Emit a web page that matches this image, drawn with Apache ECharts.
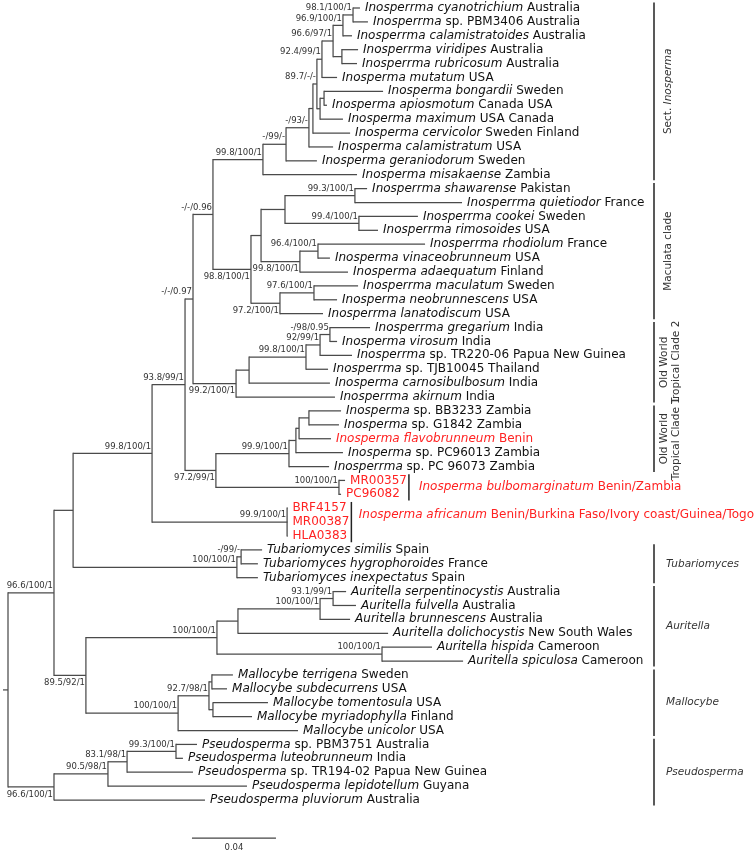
<!DOCTYPE html>
<html><head><meta charset="utf-8">
<script src="https://cdn.jsdelivr.net/npm/echarts@6/dist/echarts.min.js"></script>
<style>html,body{margin:0;padding:0;background:#fff}#c{width:756px;height:856px}</style>
</head><body><div id="c"></div>
<script>
// ---------------- DATA ----------------
const leafTaxon = [
 'Inosperrma cyanotrichium','Inosperrma','Inosperrma calamistratoides','Inosperrma viridipes','Inosperrma rubricosum','Inosperma mutatum','Inosperma bongardii','Inosperma apiosmotum','Inosperma maximum','Inosperma cervicolor','Inosperma calamistratum','Inosperma geraniodorum','Inosperma misakaense',
 'Inosperrma shawarense','Inosperrma quietiodor','Inosperrma cookei','Inosperrma rimosoides','Inosperrma rhodiolum','Inosperma vinaceobrunneum','Inosperma adaequatum','Inosperrma maculatum','Inosperma neobrunnescens','Inosperrma lanatodiscum',
 'Inosperrma gregarium','Inosperma virosum','Inosperrma','Inosperrma','Inosperma carnosibulbosum','Inosperrma akirnum',
 'Inosperma','Inosperma','Inosperma flavobrunneum','Inosperma','Inosperrma',
 '','','','','',
 'Tubariomyces similis','Tubariomyces hygrophoroides','Tubariomyces inexpectatus',
 'Auritella serpentinocystis','Auritella fulvella','Auritella brunnescens','Auritella dolichocystis','Auritella hispida','Auritella spiculosa',
 'Mallocybe terrigena','Mallocybe subdecurrens','Mallocybe tomentosula','Mallocybe myriadophylla','Mallocybe unicolor',
 'Pseudosperma','Pseudosperma luteobrunneum','Pseudosperma','Pseudosperma lepidotellum','Pseudosperma pluviorum'];
const leafDetail = [
 'Australia','sp. PBM3406 Australia','Australia','Australia','Australia','USA','Sweden','Canada USA','USA Canada','Sweden Finland','USA','Sweden','Zambia',
 'Pakistan','France','Sweden','USA','France','USA','Finland','Sweden','USA','USA',
 'India','India','sp. TR220-06 Papua New Guinea','sp. TJB10045 Thailand','India','India',
 'sp. BB3233 Zambia','sp. G1842 Zambia','Benin','sp. PC96013 Zambia','sp. PC 96073 Zambia',
 'MR00357','PC96082','BRF4157','MR00387','HLA0383',
 'Spain','France','Spain',
 'Australia','Australia','Australia','New South Wales','Cameroon','Cameroon',
 'Sweden','USA','USA','Finland','USA',
 'sp. PBM3751 Australia','India','sp. TR194-02 Papua New Guinea','Guyana','Australia'];
// distance of each tip from the root (substitutions/site)
const leafDepth = [
 0.1676,0.1714,0.1638,0.1667,0.1662,0.1567,0.1786,0.1519,0.1595,0.1629,0.1548,0.1471,0.1662,
 0.1710,0.2162,0.1952,0.1762,0.1986,0.1533,0.1619,0.1667,0.1567,0.1500,
 0.1724,0.1567,0.1638,0.1524,0.1533,0.1557,
 0.1586,0.1576,0.1538,0.1595,0.1529,
 0.1605,0.1586,0.1331,0.1331,0.1331,
 0.1210,0.1190,0.1190,
 0.1610,0.1657,0.1629,0.1810,0.2019,0.2167,
 0.1071,0.1043,0.1238,0.1162,0.1381,
 0.0900,0.0833,0.0881,0.1138,0.0938];
// taxa newly reported in this study
const newTaxa = [31,34,35,36,37,38];

const nodeName = ['A','B','C','D','E','F1','F','G','H','I',
 'J','K','L','M','N','P','Q','R','S','T',
 'U','V','W','X','Y','Z','AA','AB','AC','AD',
 'AE','AF','AG','AH','AI','AK','AJ','AM','AN','AL',
 'AR3','AR2','AR','AS','AQ','AV','AW','AU','AT','AP',
 'AO','BA','AZ','AY','AX','ROOT'];
const nodeChildren = [[0,1],['A',2],[3,4],['B','C'],['D',5],[6,7],['F1',8],['E','F'],['G',9],['H',10],
 ['I',11],['J',12],[13,14],[15,16],['L','M'],[17,18],['P',19],['N','Q'],[20,21],['S',22],
 ['R','T'],['K','U'],[23,24],['W',25],['X',26],['Y',27],['Z',28],['V','AA'],[29,30],['AC',31],
 ['AD',32],['AE',33],[34,35],['AF','AG'],[36,37,38],['AB','AH'],['AK','AI'],[39,40],['AM',41],['AJ','AN'],
 [42,43],['AR3',44],['AR2',45],[46,47],['AR','AS'],[48,49],[50,51],['AV','AW'],['AU',52],['AQ','AT'],
 ['AL','AP'],[53,54],['BA',55],['AZ',56],['AY',57],['AO','AX']];
const nodeDepth = [0.1643,0.1595,0.1590,0.1548,0.1495,0.1505,0.1486,0.1471,0.1452,0.1433,
 0.1324,0.1214,0.1652,0.1671,0.1319,0.1476,0.1390,0.1205,0.1457,0.1295,
 0.1157,0.0976,0.1533,0.1486,0.1419,0.1148,0.1086,0.0881,0.1433,0.1386,
 0.1371,0.1338,0.1576,0.0990,0.1329,0.0843,0.0686,0.1110,0.1090,0.0310,
 0.1548,0.1486,0.1095,0.1781,0.0995,0.0971,0.0976,0.0957,0.0810,0.0371,
 0.0219,0.0800,0.0567,0.0476,0.0219,0];
const nodeSupport = ['98.1/100/1','96.9/100/1','','96.6/97/1','92.4/99/1','','','89.7/-/-','','-/93/-',
 '-/99/-','99.8/100/1','99.3/100/1','99.4/100/1','','96.4/100/1','99.8/100/1','','97.6/100/1','97.2/100/1',
 '98.8/100/1','-/-/0.96','-/98/0.95','92/99/1','99.8/100/1','','99.2/100/1','-/-/0.97','','',
 '','99.9/100/1','100/100/1','97.2/99/1','99.9/100/1','93.8/99/1','99.8/100/1','-/99/-','100/100/1','',
 '93.1/99/1','100/100/1','','100/100/1','100/100/1','','','92.7/98/1','100/100/1','89.5/92/1',
 '96.6/100/1','99.3/100/1','83.1/98/1','90.5/98/1','96.6/100/1',''];

const cladeLabel = ['Sect. {i|Inosperma}','Maculata clade','Old World\nTropical Clade 2','Old World\nTropical Clade 1','{i|Tubariomyces}','{i|Auritella}','{i|Mallocybe}','{i|Pseudosperma}'];
const cladeFirst = [0,13,23,29,39,42,48,53];
const cladeLast  = [12,22,28,33,41,47,52,57];

const groupTaxon  = ['Inosperma bulbomarginatum','Inosperma africanum'];
const groupDetail = ['Benin/Zambia','Benin/Burkina Faso/Ivory coast/Guinea/Togo'];
const groupFirst  = [34,36];
const groupLast   = [35,38];

const scaleLength = 0.04;
const scaleLabel = '0.04';

// ---------------- LAYOUT / STYLE ----------------
const FONT = 'DejaVu Sans';
const BRANCH = '#4a4a4a';
const RED = '#ff2222';
const TXT = '#111111';
const LABEL_BELOW = ['Q','T','U','AA','AH','AP','AX'];
const ROTATED = [0,1,2,3];
const BAR_PX = 654;
const LEAF_GAP = 5;
const ROOT_STUB = 0.0024;
const SCALE_START = 0.0876, SCALE_ROW = 59.75;

// ---------------- TREE LAYOUT ----------------
const nodeIndex = {}; nodeName.forEach((n,i)=>nodeIndex[n]=i);
const nodeRow = [];
function rowOf(c){ return typeof c === 'number' ? c : calcRow(nodeIndex[c]); }
function calcRow(i){ if(nodeRow[i]===undefined){ const ch=nodeChildren[i]; nodeRow[i]=(rowOf(ch[0])+rowOf(ch[ch.length-1]))/2; } return nodeRow[i]; }
nodeName.forEach((n,i)=>calcRow(i));
const leafParent = [], nodeParent = [];
nodeChildren.forEach((ch,i)=>ch.forEach(c=>{ if(typeof c==='number') leafParent[c]=i; else nodeParent[nodeIndex[c]]=i; }));

const branchData = [];
leafDepth.forEach((d,i)=>branchData.push([d, i, nodeDepth[leafParent[i]], i, i]));
nodeName.forEach((n,i)=>{
  const rows = nodeChildren[i].map(rowOf);
  const pd = nodeParent[i]===undefined ? nodeDepth[i]-ROOT_STUB : nodeDepth[nodeParent[i]];
  branchData.push([nodeDepth[i], nodeRow[i], pd, Math.min(...rows), Math.max(...rows)]);
});
const leafData = leafDepth.map((d,i)=>[d,i,i]);
const supportData = [];
nodeName.forEach((n,i)=>{ if(nodeSupport[i]) supportData.push([nodeDepth[i], nodeRow[i], i]); });

const mctx = document.createElement('canvas').getContext('2d');
function textW(s, italic){ mctx.font = (italic?'italic ':'') + '12px "' + FONT + '"'; return mctx.measureText(s).width; }

const chart = echarts.init(document.getElementById('c'), null, {renderer:'canvas'});
const GRID = {left:8, top:8, width:735, height:792};

function leafText(i){ return leafTaxon[i] ? '{i|' + leafTaxon[i] + '} ' + leafDetail[i] : leafDetail[i]; }

chart.setOption({
  animation:false,
  backgroundColor:'#fff',
  grid: GRID,
  xAxis:{type:'value', min:0, max:0.35, show:false},
  yAxis:{type:'value', min:0, max:57, inverse:true, show:false},
  series:[
    { type:'custom', clip:false, data: branchData, silent:true,
      renderItem(params, api){
        const p = api.coord([api.value(0), api.value(1)]);
        const pp = api.coord([api.value(2), api.value(1)]);
        const t = api.coord([api.value(0), api.value(3)]);
        const b = api.coord([api.value(0), api.value(4)]);
        const st = {stroke:BRANCH, lineWidth:1.25};
        const ch = [{type:'line', shape:{x1:pp[0], y1:p[1], x2:p[0], y2:p[1]}, style:st}];
        if (b[1]-t[1] > 0.1) ch.push({type:'line', shape:{x1:p[0], y1:t[1]-0.6, x2:p[0], y2:b[1]+0.6}, style:st});
        return {type:'group', children:ch};
      }},
    { type:'custom', clip:false, data: leafData, silent:true,
      renderItem(params, api){
        const i = api.value(2);
        const p = api.coord([api.value(0), api.value(1)]);
        const col = newTaxa.includes(i) ? RED : TXT;
        return {type:'text', x:p[0]+LEAF_GAP, y:p[1], style:{
          text: leafText(i), fill:col, fontSize:12, fontFamily:FONT, align:'left', verticalAlign:'middle',
          rich:{i:{fontStyle:'italic', fontSize:12, fontFamily:FONT, fill:col}}}};
      }},
    { type:'custom', clip:false, data: supportData, silent:true,
      renderItem(params, api){
        const i = api.value(2);
        const p = api.coord([api.value(0), api.value(1)]);
        const below = LABEL_BELOW.includes(nodeName[i]);
        return {type:'text', x:p[0]-1, y: below ? p[1]+3 : p[1]-2.5, style:{
          text: nodeSupport[i], fill:'#333', fontSize:8.5, fontFamily:FONT, align:'right', verticalAlign: below?'top':'bottom'}};
      }},
    { type:'custom', clip:false, data: cladeFirst.map((f,i)=>[f, cladeLast[i], i]), silent:true,
      renderItem(params, api){
        const i = api.value(2);
        const t = api.coord([0, api.value(0)-0.4]);
        const b = api.coord([0, api.value(1)+0.4]);
        const mid = (t[1]+b[1])/2;
        const rot = ROTATED.includes(i);
        const twoLine = cladeLabel[i].indexOf('\n')>=0;
        const lab = rot ? {type:'text', x: BAR_PX + (twoLine?16:14), y: mid, rotation: Math.PI/2,
            style:{text:cladeLabel[i], fill:'#333', fontSize:10.5, fontFamily:FONT, align:'center', verticalAlign:'middle', lineHeight:12,
              rich:{i:{fontStyle:'italic', fontSize:10.5, fontFamily:FONT, fill:'#333'}}}}
          : {type:'text', x: BAR_PX + 12, y: mid, style:{text:cladeLabel[i], fill:'#333', fontSize:10.5, fontFamily:FONT, align:'left', verticalAlign:'middle',
              rich:{i:{fontStyle:'italic', fontSize:10.5, fontFamily:FONT, fill:'#333'}}}};
        return {type:'group', children:[
          {type:'line', shape:{x1:BAR_PX, y1:t[1], x2:BAR_PX, y2:b[1]}, style:{stroke:'#222', lineWidth:1.5}}, lab]};
      }},
    { type:'custom', clip:false, data: groupFirst.map((f,i)=>[f, groupLast[i], i]), silent:true,
      renderItem(params, api){
        const g = api.value(2), f = api.value(0), l = api.value(1);
        let maxEnd = 0;
        for (let k=f; k<=l; k++){
          const px = api.coord([leafDepth[k], k])[0] + LEAF_GAP + textW(leafDetail[k], false);
          maxEnd = Math.max(maxEnd, px);
        }
        const bx = maxEnd + 2;
        const t = api.coord([0, f-0.45]), b = api.coord([0, l+0.45]);
        const ly = api.coord([0, f+0.5])[1];
        const lw = textW(groupTaxon[g]+' ', true) + textW(groupDetail[g], false);
        const gap = Math.max(2, Math.min(10, 756 - 2 - bx - lw));
        return {type:'group', children:[
          {type:'line', shape:{x1:bx, y1:t[1], x2:bx, y2:b[1]}, style:{stroke:'#222', lineWidth:1.5}},
          {type:'text', x: bx+gap, y: ly, style:{text:'{i|'+groupTaxon[g]+'} '+groupDetail[g], fill:RED, fontSize:12, fontFamily:FONT, align:'left', verticalAlign:'middle',
            rich:{i:{fontStyle:'italic', fontSize:12, fontFamily:FONT, fill:RED}}}}]};
      }},
    { type:'custom', clip:false, data:[[SCALE_START, SCALE_ROW, scaleLength]], silent:true,
      renderItem(params, api){
        const a = api.coord([api.value(0), api.value(1)]);
        const b = api.coord([api.value(0)+api.value(2), api.value(1)]);
        return {type:'group', children:[
          {type:'line', shape:{x1:a[0], y1:a[1], x2:b[0], y2:b[1]}, style:{stroke:'#444', lineWidth:1.2}},
          {type:'text', x:(a[0]+b[0])/2, y:a[1]+5, style:{text:scaleLabel, fill:'#333', fontSize:8.5, fontFamily:FONT, align:'center', verticalAlign:'top'}}]};
      }}
  ]
});
</script></body></html>
